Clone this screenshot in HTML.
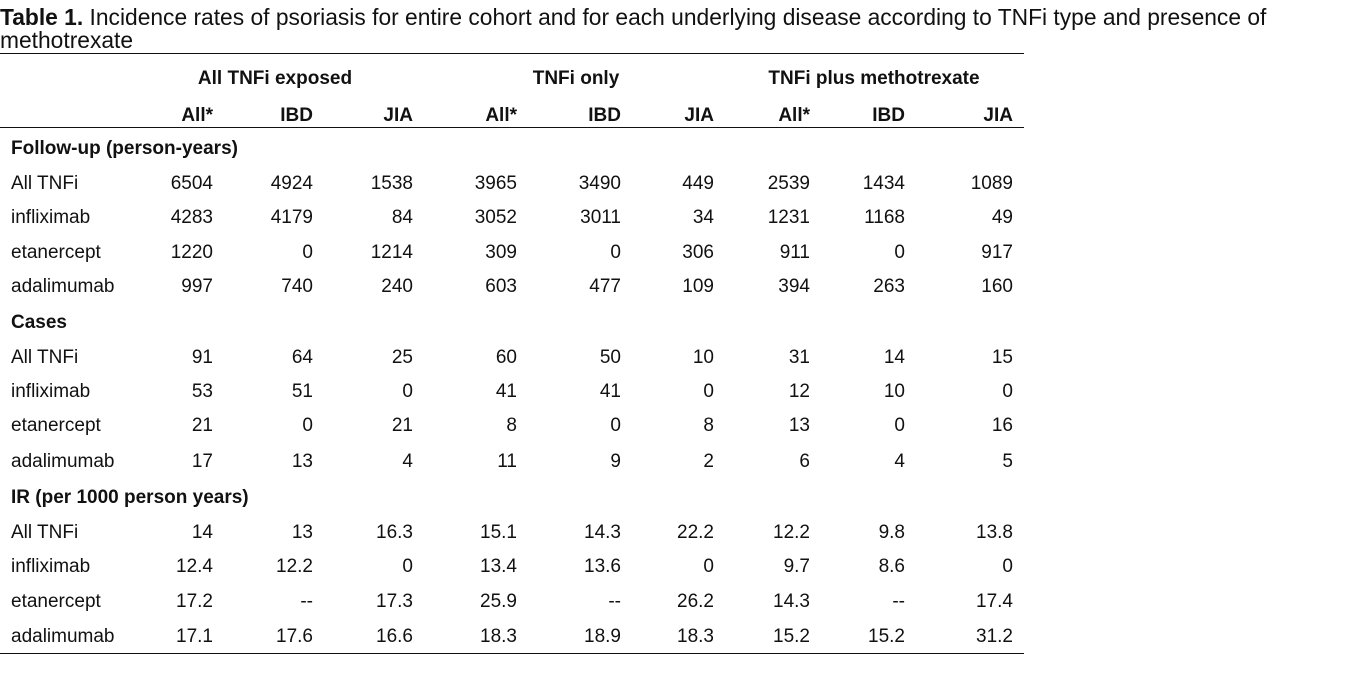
<!DOCTYPE html>
<html><head><meta charset="utf-8"><style>
body{margin:0;width:1352px;height:682px;background:#fff;position:relative;overflow:hidden;font-family:"Liberation Sans",Arial,sans-serif;color:#111}
.t{position:absolute;font-size:22.8px;left:0;line-height:23px;white-space:nowrap}
.h{position:absolute;height:1px;background:#111;left:0;width:1024px}
.r{position:absolute;font-size:19px;line-height:22px;white-space:nowrap}
.b{font-weight:bold}
</style></head><body>
<div class="t" style="top:6px"><b>Table 1.</b> Incidence rates of psoriasis for entire cohort and for each underlying disease according to TNFi type and presence of<br>methotrexate</div>
<div class="h" style="top:53px"></div>
<div class="h" style="top:127px"></div>
<div class="h" style="top:653px"></div>
<script>
const rights=[213,313,413,517,621,714,810,905,1013];
const c=document.body;
function txt(s,x,y,align,bold){y+=2;const d=document.createElement('div');d.className='r'+(bold?' b':'');d.textContent=s;d.style.top=(y-11)+'px';
if(align==='r'){d.style.right=(1352-x)+'px';}else if(align==='c'){d.style.left=(x-300)+'px';d.style.width='600px';d.style.textAlign='center';}else d.style.left=x+'px';c.appendChild(d);}
txt('All TNFi exposed',275,77,'c',1);txt('TNFi only',576,77,'c',1);txt('TNFi plus methotrexate',874,77,'c',1);
['All*','IBD','JIA','All*','IBD','JIA','All*','IBD','JIA'].forEach((s,i)=>txt(s,rights[i],114,'r',1));
const rows=[
[147,'Follow-up (person-years)',null],
[182,'All TNFi',['6504','4924','1538','3965','3490','449','2539','1434','1089']],
[216,'infliximab',['4283','4179','84','3052','3011','34','1231','1168','49']],
[251,'etanercept',['1220','0','1214','309','0','306','911','0','917']],
[285,'adalimumab',['997','740','240','603','477','109','394','263','160']],
[321,'Cases',null],
[356,'All TNFi',['91','64','25','60','50','10','31','14','15']],
[390,'infliximab',['53','51','0','41','41','0','12','10','0']],
[424,'etanercept',['21','0','21','8','0','8','13','0','16']],
[460,'adalimumab',['17','13','4','11','9','2','6','4','5']],
[496,'IR (per 1000 person years)',null],
[531,'All TNFi',['14','13','16.3','15.1','14.3','22.2','12.2','9.8','13.8']],
[565,'infliximab',['12.4','12.2','0','13.4','13.6','0','9.7','8.6','0']],
[600,'etanercept',['17.2','--','17.3','25.9','--','26.2','14.3','--','17.4']],
[635,'adalimumab',['17.1','17.6','16.6','18.3','18.9','18.3','15.2','15.2','31.2']]];
rows.forEach(([y,l,v])=>{txt(l,11,y,'l',!v);if(v)v.forEach((s,i)=>txt(s,rights[i],y,'r',0));});
</script>
</body></html>
